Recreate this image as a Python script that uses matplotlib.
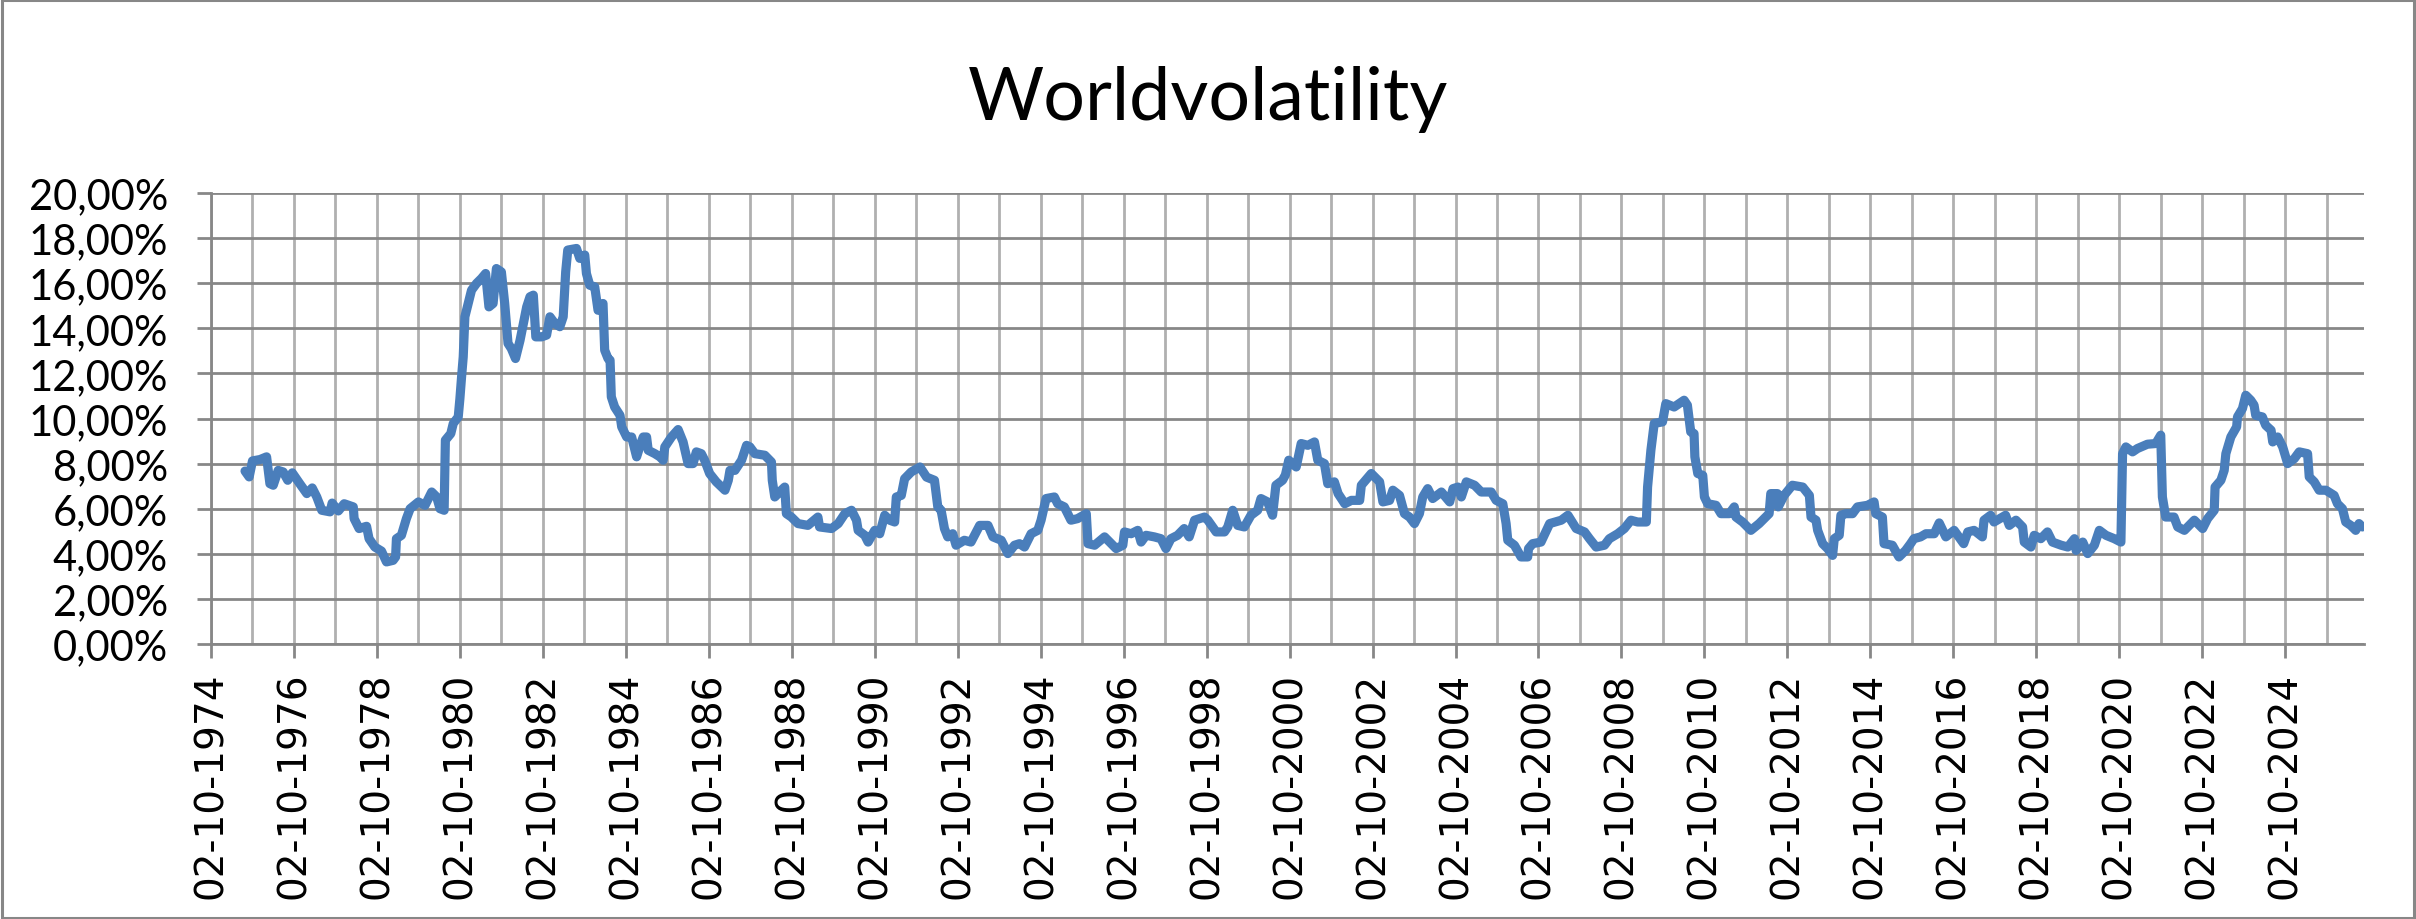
import numpy as np
import pandas as pd
import matplotlib
matplotlib.use('Agg')
from matplotlib import pyplot as plt
import matplotlib.dates as mdates
from matplotlib.ticker import FuncFormatter, MultipleLocator
from matplotlib.patches import Rectangle

years_since_start = [
    0.82, 0.92, 1.00, 1.18, 1.34, 1.42, 1.50, 1.62, 1.74, 1.85, 1.96, 2.14, 2.31, 2.44, 2.55, 2.67,
    2.87, 2.92, 3.07, 3.21, 3.43, 3.45, 3.57, 3.75, 3.81, 3.95, 4.11, 4.23, 4.39, 4.45, 4.47, 4.59,
    4.71, 4.80, 5.00, 5.16, 5.32, 5.44, 5.52, 5.62, 5.65, 5.78, 5.84, 5.96, 6.00, 6.04, 6.08, 6.12,
    6.20, 6.28, 6.40, 6.52, 6.62, 6.70, 6.80, 6.88, 7.00, 7.08, 7.16, 7.24, 7.34, 7.45, 7.53, 7.61,
    7.69, 7.77, 7.83, 7.97, 8.09, 8.17, 8.29, 8.41, 8.49, 8.55, 8.60, 8.81, 8.89, 9.01, 9.05, 9.13,
    9.25, 9.33, 9.45, 9.49, 9.57, 9.62, 9.65, 9.73, 9.86, 9.90, 10.02, 10.14, 10.26, 10.36, 10.42, 10.50,
    10.54, 10.70, 10.82, 10.90, 10.94, 11.10, 11.26, 11.38, 11.50, 11.62, 11.70, 11.82, 11.90, 12.02, 12.18, 12.39,
    12.47, 12.51, 12.63, 12.79, 12.91, 12.99, 13.11, 13.35, 13.51, 13.53, 13.59, 13.75, 13.83, 13.87, 13.99, 14.15,
    14.39, 14.63, 14.67, 14.96, 15.12, 15.28, 15.44, 15.56, 15.60, 15.76, 15.84, 16.00, 16.12, 16.24, 16.36, 16.48,
    16.52, 16.64, 16.72, 16.88, 17.09, 17.25, 17.44, 17.52, 17.60, 17.68, 17.76, 17.88, 17.96, 18.16, 18.32, 18.53,
    18.73, 18.85, 19.05, 19.21, 19.37, 19.49, 19.61, 19.77, 19.93, 20.01, 20.13, 20.33, 20.41, 20.57, 20.73, 20.89,
    21.10, 21.14, 21.30, 21.54, 21.82, 21.98, 22.02, 22.18, 22.34, 22.42, 22.54, 22.74, 22.90, 23.02, 23.14, 23.30,
    23.46, 23.58, 23.71, 23.95, 24.03, 24.23, 24.43, 24.51, 24.63, 24.75, 24.91, 25.07, 25.23, 25.31, 25.47, 25.59,
    25.67, 25.83, 25.90, 25.98, 26.16, 26.28, 26.44, 26.60, 26.68, 26.84, 26.92, 27.08, 27.17, 27.33, 27.49, 27.69,
    27.73, 27.97, 28.17, 28.25, 28.41, 28.49, 28.65, 28.77, 28.89, 29.01, 29.13, 29.21, 29.33, 29.45, 29.66, 29.86,
    29.94, 30.06, 30.14, 30.26, 30.46, 30.62, 30.86, 30.98, 31.14, 31.22, 31.26, 31.42, 31.58, 31.74, 31.76, 31.86,
    32.06, 32.27, 32.55, 32.71, 32.91, 33.11, 33.23, 33.39, 33.59, 33.71, 33.91, 34.07, 34.23, 34.39, 34.60, 34.63,
    34.71, 34.79, 34.99, 35.07, 35.27, 35.51, 35.59, 35.67, 35.75, 35.77, 35.84, 35.96, 36.00, 36.08, 36.28, 36.40,
    36.60, 36.72, 36.76, 36.92, 37.12, 37.32, 37.56, 37.60, 37.76, 37.78, 37.92, 38.12, 38.37, 38.53, 38.57, 38.69,
    38.73, 38.85, 38.97, 39.09, 39.13, 39.25, 39.29, 39.41, 39.57, 39.69, 39.93, 40.09, 40.13, 40.29, 40.33, 40.53,
    40.69, 40.85, 40.97, 41.05, 41.21, 41.34, 41.54, 41.66, 41.82, 42.02, 42.25, 42.35, 42.50, 42.70, 42.74, 42.90,
    42.98, 43.26, 43.35, 43.51, 43.67, 43.71, 43.87, 43.95, 44.11, 44.27, 44.39, 44.60, 44.76, 44.92, 44.96, 45.12,
    45.24, 45.40, 45.52, 45.68, 45.88, 46.04, 46.08, 46.16, 46.32, 46.44, 46.68, 46.88, 47.00, 47.04, 47.12, 47.32,
    47.41, 47.57, 47.81, 48.01, 48.13, 48.29, 48.31, 48.45, 48.53, 48.57, 48.69, 48.83, 48.85, 48.97, 49.05, 49.17,
    49.25, 49.29, 49.45, 49.53, 49.66, 49.70, 49.82, 49.94, 50.06, 50.22, 50.34, 50.54, 50.58, 50.70, 50.82, 50.98,
    51.18, 51.26, 51.38, 51.46, 51.58, 51.70, 51.78, 51.86,
]

# World volatility in percent
volatility = [
    7.67, 7.41, 8.12, 8.18, 8.30, 7.11, 7.04, 7.70, 7.63, 7.26, 7.59, 7.11, 6.67, 6.92, 6.52, 5.93,
    5.86, 6.25, 5.90, 6.22, 6.08, 5.56, 5.12, 5.22, 4.67, 4.30, 4.12, 3.64, 3.71, 3.86, 4.67, 4.82,
    5.56, 6.00, 6.30, 6.15, 6.74, 6.52, 6.00, 5.93, 9.04, 9.33, 9.78, 10.07, 10.88, 11.84, 12.73, 14.51,
    15.10, 15.69, 15.99, 16.21, 16.43, 14.95, 15.10, 16.65, 16.50, 15.10, 13.33, 13.10, 12.66, 13.47, 14.21, 14.95,
    15.40, 15.47, 13.62, 13.62, 13.70, 14.51, 14.21, 14.07, 14.51, 16.50, 17.47, 17.54, 17.10, 17.25, 16.43, 15.91,
    15.84, 14.80, 15.10, 13.03, 12.66, 12.59, 10.96, 10.51, 10.14, 9.63, 9.18, 9.18, 8.30, 8.89, 9.18, 9.18,
    8.59, 8.44, 8.30, 8.15, 8.74, 9.18, 9.51, 8.96, 8.00, 8.00, 8.52, 8.44, 8.15, 7.56, 7.19, 6.82,
    7.26, 7.70, 7.70, 8.15, 8.81, 8.74, 8.44, 8.37, 8.07, 7.26, 6.52, 6.82, 6.96, 5.78, 5.63, 5.34,
    5.26, 5.63, 5.19, 5.12, 5.34, 5.78, 5.93, 5.49, 5.04, 4.82, 4.52, 5.04, 4.89, 5.71, 5.49, 5.41,
    6.52, 6.59, 7.33, 7.63, 7.85, 7.40, 7.26, 6.08, 5.93, 5.12, 4.75, 4.89, 4.38, 4.60, 4.52, 5.26,
    5.26, 4.75, 4.60, 4.01, 4.38, 4.45, 4.30, 4.89, 5.04, 5.49, 6.45, 6.52, 6.22, 6.08, 5.49, 5.56,
    5.78, 4.45, 4.38, 4.75, 4.23, 4.38, 4.97, 4.89, 5.04, 4.52, 4.82, 4.75, 4.67, 4.23, 4.67, 4.82,
    5.12, 4.75, 5.49, 5.63, 5.49, 4.97, 4.97, 5.19, 5.93, 5.26, 5.19, 5.71, 5.93, 6.45, 6.30, 5.71,
    7.04, 7.26, 7.50, 8.15, 7.85, 8.89, 8.81, 8.96, 8.15, 8.00, 7.11, 7.19, 6.67, 6.22, 6.37, 6.37,
    7.04, 7.56, 7.19, 6.30, 6.37, 6.82, 6.59, 5.78, 5.63, 5.34, 5.78, 6.52, 6.89, 6.45, 6.74, 6.30,
    6.89, 6.96, 6.52, 7.19, 7.04, 6.74, 6.74, 6.37, 6.22, 5.34, 4.60, 4.38, 3.86, 3.86, 4.23, 4.45,
    4.52, 5.34, 5.49, 5.71, 5.12, 4.97, 4.67, 4.30, 4.38, 4.67, 4.89, 5.12, 5.49, 5.41, 5.41, 6.96,
    8.59, 9.78, 9.85, 10.66, 10.51, 10.81, 10.59, 9.41, 9.33, 8.30, 7.56, 7.48, 6.52, 6.22, 6.15, 5.78,
    5.78, 6.08, 5.63, 5.41, 5.04, 5.34, 5.78, 6.67, 6.67, 6.08, 6.59, 7.04, 6.96, 6.59, 5.63, 5.49,
    5.04, 4.45, 4.23, 3.93, 4.67, 4.82, 5.71, 5.78, 5.78, 6.08, 6.15, 6.30, 5.78, 5.63, 4.45, 4.38,
    3.86, 4.15, 4.45, 4.67, 4.75, 4.89, 4.89, 5.37, 4.75, 5.04, 4.45, 4.97, 5.04, 4.75, 5.49, 5.71,
    5.41, 5.71, 5.26, 5.49, 5.19, 4.52, 4.30, 4.82, 4.67, 4.97, 4.52, 4.38, 4.30, 4.67, 4.15, 4.52,
    4.01, 4.38, 5.04, 4.82, 4.67, 4.52, 8.44, 8.74, 8.52, 8.67, 8.86, 8.89, 9.26, 6.52, 5.63, 5.63,
    5.19, 5.04, 5.49, 5.12, 5.56, 5.93, 6.96, 7.26, 7.70, 8.44, 9.18, 9.63, 10.07, 10.44, 11.03, 10.81,
    10.59, 10.14, 10.07, 9.70, 9.48, 8.96, 9.18, 8.74, 8.00, 8.22, 8.52, 8.44, 7.41, 7.19, 6.82, 6.82,
    6.59, 6.22, 6.00, 5.41, 5.26, 5.04, 5.34, 5.19,
]

start = pd.Timestamp('1974-10-02')
dates = start + pd.to_timedelta(np.array(years_since_start) * 365.25, unit='D')
x_end = start + pd.to_timedelta(51.9 * 365.25, unit='D')

grid_dark = '#878787'
grid_light = '#b0b0b0'

fig = plt.figure(figsize=(24.16, 9.2), dpi=100)
ax = fig.add_axes([211 / 2416, 1 - 645 / 920, (2364 - 211) / 2416, (645 - 194) / 920])

ax.plot(dates, volatility, color='#4a7ebb', lw=6.6, solid_joinstyle='round', solid_capstyle='round', zorder=3)

ax.set_xlim(start, x_end)
ax.set_ylim(0, 20)

# x axis: labels every 2 years, gridlines every year
ax.xaxis.set_major_locator(mdates.YearLocator(base=2, month=10, day=2))
ax.xaxis.set_minor_locator(mdates.YearLocator(base=1, month=10, day=2))
ax.xaxis.set_major_formatter(mdates.DateFormatter('%d-%m-%Y'))
ax.yaxis.set_major_locator(MultipleLocator(2))
ax.yaxis.set_major_formatter(FuncFormatter(lambda v, p: f'{v:.2f}'.replace('.', ',') + '%'))

ax.grid(True, which='both', axis='x', color=grid_light, lw=2.0, zorder=0)
ax.grid(True, which='major', axis='y', color=grid_dark, lw=2.0, zorder=0)
ax.set_axisbelow(True)

for s in ['top', 'right']:
    ax.spines[s].set_visible(False)
for s in ['left', 'bottom']:
    ax.spines[s].set_color(grid_dark)
    ax.spines[s].set_linewidth(2.0)

ax.tick_params(axis='x', which='major', direction='out', length=10, width=2.0, color=grid_dark, pad=10)
ax.tick_params(axis='x', which='minor', length=0)
ax.tick_params(axis='y', which='major', direction='out', length=10, width=2.0, color=grid_dark, pad=21)

for lab in ax.get_xticklabels():
    lab.set_rotation(90)
    lab.set_fontfamily('DejaVu Sans')
    lab.set_fontsize(28)
    lab.set_va('top')
    lab.set_ha('center')
for lab in ax.get_yticklabels():
    lab.set_fontfamily('Lato')
    lab.set_fontsize(30)

fig.text(0.5, 1 - 120 / 920, 'Worldvolatility', ha='center', va='baseline', fontsize=53, family='Lato')

# chart area border
fig.patches.append(Rectangle((0.0008, 0.0012), 0.9984, 0.9976, transform=fig.transFigure,
                             fill=False, edgecolor=grid_dark, lw=2.2))

fig.savefig('out.png', dpi=100)
